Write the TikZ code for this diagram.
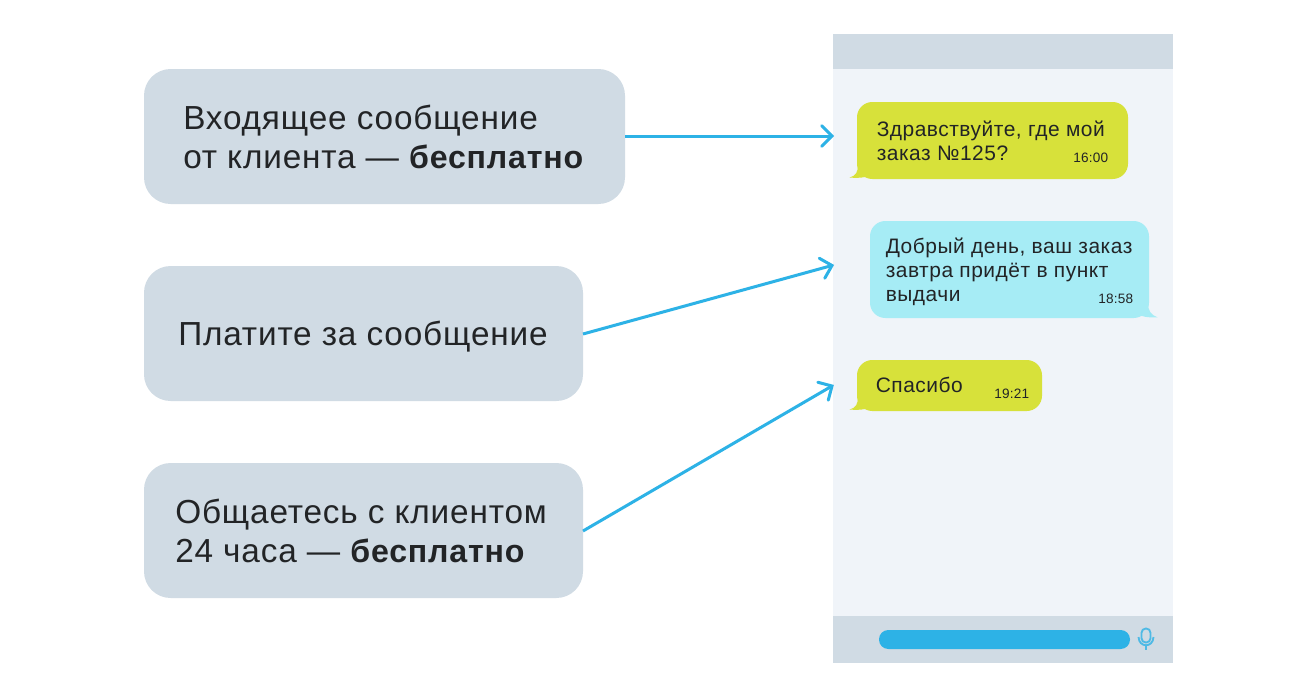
\documentclass[tikz,border=0pt]{standalone}
\usepackage{fontspec}
\setmainfont{Liberation Sans}[LetterSpace=2.5]
\newfontfamily\smallf{Liberation Sans}[LetterSpace=1.5]
\usetikzlibrary{calc}
\definecolor{boxc}{HTML}{D0DBE4}
\definecolor{phone}{HTML}{F0F4F9}
\definecolor{lime}{HTML}{D7E13A}
\definecolor{aqua}{HTML}{A6ECF5}
\definecolor{arrowc}{HTML}{2DB2E6}
\definecolor{micc}{HTML}{4FBAE5}
\definecolor{ink}{HTML}{222426}
\newcommand{\bld}[1]{{\fontsize{24.1pt}{30pt}\selectfont\bfseries #1}}
\newcommand{\arrowhd}[2]{\draw[linkhead] ($(#2)!11pt!45:(#1)$) -- (#2) -- ($(#2)!11pt!-45:(#1)$);}
\tikzset{
  infobox/.style={fill=boxc,draw=none,rounded corners=20pt},
  bubble/.style={rounded corners=11.5pt},
  bigtext/.style={anchor=base west,inner sep=0pt,text=ink,font=\fontsize{25pt}{30pt}\selectfont},
  msgtext/.style={anchor=base west,inner sep=0pt,text=ink,font=\fontsize{15.7pt}{18pt}\selectfont},
  timetext/.style={anchor=base east,inner sep=0pt,text=ink,font=\smallf\fontsize{10.2pt}{12pt}\selectfont},
  link/.style={draw=arrowc,line width=2.25pt},
  linkhead/.style={draw=arrowc,line width=2.25pt,line join=miter,line cap=round},
  micline/.style={draw=micc,line width=1.4pt},
}
\begin{document}
\begin{tikzpicture}[x=0.75pt,y=-0.75pt]
\useasboundingbox (0,0) rectangle (1313,697);
\fill[white] (0,0) rectangle (1313,697);
% phone
\fill[phone] (833,34) rectangle (1173,663);
\fill[boxc] (833,34) rectangle (1173,69);
\fill[boxc] (833,616) rectangle (1173,663);
\fill[arrowc,rounded corners=7pt] (879,630) rectangle (1130,649);
% mic
\draw[micline,rounded corners=3.2pt] (1141.5,628.5) rectangle (1150.5,642.5);
\draw[micline] (1138.5,637) .. controls (1139,648) and (1153,648) .. (1153.5,637);
\draw[micline] (1146,645.5) -- (1146,650);
% info boxes
\path[infobox] (144,69) rectangle (625,204);
\coordinate (b1) at (625,136);
\path[infobox] (144,266) rectangle (583,401);
\coordinate (b2) at (583,334);
\path[infobox] (144,463) rectangle (583,598);
\coordinate (b3) at (583,531);
\node[bigtext] (t1a) at (183,129) {Входящее сообщение};
\node[bigtext] (t1b) at (183,168) {от клиента — \bld{бесплатно}};
\node[bigtext] (t2) at (178,345) {Платите за сообщение};
\node[bigtext] (t3a) at (175,523) {Общаетесь с клиентом};
\node[bigtext] (t3b) at (175,562) {24 часа — \bld{бесплатно}};
% bubbles
\fill[lime] (871,176) -- (865,177) .. controls (860,178) and (855,178) .. (849.5,177.5) .. controls (856,176) and (858,172) .. (858,164) -- cycle;
\fill[lime,bubble] (857,102) rectangle (1128,179);
\fill[aqua] (1136,315) -- (1142,316) .. controls (1147,317.5) and (1152,317.5) .. (1157.5,317.3) .. controls (1151,315) and (1148,311) .. (1148,303) -- cycle;
\fill[aqua,bubble] (870,221) rectangle (1149,318);
\fill[lime] (871,408) -- (865,409) .. controls (860,410) and (855,410) .. (849.5,409.5) .. controls (856,408) and (858,404) .. (858,396) -- cycle;
\fill[lime,bubble] (857,360) rectangle (1042,411);
\node[msgtext] (m1a) at (876.5,136) {Здравствуйте, где мой};
\node[msgtext] (m1b) at (876.5,160) {заказ №125?};
\node[timetext] (m1t) at (1108.5,162) {16:00};
\node[msgtext] (m2a) at (885.5,253.5) {Добрый день, ваш заказ};
\node[msgtext] (m2b) at (885.5,277.5) {завтра придёт в пункт};
\node[msgtext] (m2c) at (885.5,301.5) {выдачи};
\node[timetext] (m2t) at (1133.5,303) {18:58};
\node[msgtext] (m3) at (875.5,392.5) {Спасибо};
\node[timetext] (m3t) at (1029.5,398) {19:21};
% connectors
\coordinate (e1) at (832,136);
\coordinate (e2) at (832,265.5);
\coordinate (e3) at (832,386);
\draw[link] (b1) -- (e1);
\draw[link] (b2) -- (e2);
\draw[link] (b3) -- (e3);
\arrowhd{b1}{e1}
\arrowhd{b2}{e2}
\arrowhd{b3}{e3}
\end{tikzpicture}
\end{document}
